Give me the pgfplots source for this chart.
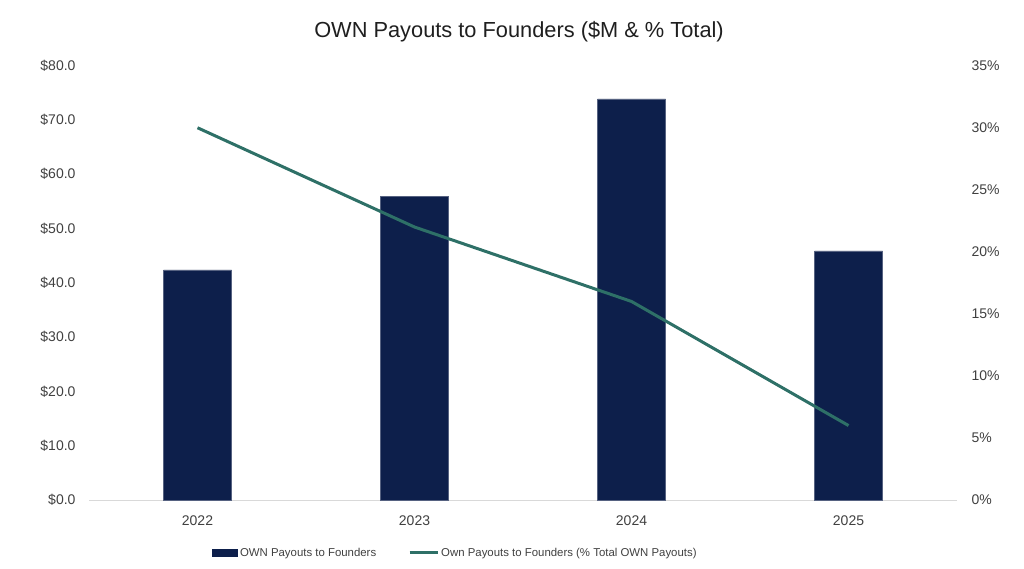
\documentclass[border=0pt]{standalone}
\usepackage{pgfplots}
\pgfplotsset{compat=1.18}
\usepackage{fontspec}
\setmainfont{Liberation Sans}
\definecolor{navy}{HTML}{0D1F4B}
\definecolor{tealline}{HTML}{2E7067}
\definecolor{txt}{HTML}{404040}
\definecolor{axisgray}{HTML}{D9D9D9}
\begin{document}
\begin{tikzpicture}[x=1pt,y=1pt]
\path[use as bounding box] (0,0) rectangle (1024,568);
\node[font=\fontsize{21.8}{25}\selectfont, text=black!88] at (519,536) {OWN Payouts to Founders (\$M \& \% Total)};
\begin{axis}[
  at={(89pt,68pt)}, anchor=south west, scale only axis,
  width=868pt, height=434.3pt,
  xmin=-0.5, xmax=3.5, ymin=0, ymax=80,
  xtick={0,1,2,3}, xticklabels={2022,2023,2024,2025},
  ytick={0,10,...,80},
  axis x line*=bottom, axis y line*=left,
  x axis line style={draw=axisgray, line width=1pt, -},
  y axis line style={draw=none},
  major tick length=0pt,
  tick label style={font=\fontsize{14}{16}\selectfont, text=txt},
  /pgf/number format/assume math mode=true,
  yticklabel={\$\pgfmathprintnumber[fixed,fixed zerofill,precision=1]{\tick}},
  yticklabel style={xshift=-10pt},
  xticklabel style={yshift=-12pt},
  clip=false,
]
\addplot[ybar, bar width=68pt, fill=navy, draw=navy!70!white, line width=0.3pt, bar shift=0pt] coordinates {(0,42.4) (1,55.9) (2,73.9) (3,45.9)};
\end{axis}
\begin{axis}[
  at={(89pt,68pt)}, anchor=south west, scale only axis,
  width=868pt, height=434.3pt,
  xmin=-0.5, xmax=3.5, ymin=0, ymax=35,
  ytick={0,5,...,35},
  axis y line*=right, axis x line=none,
  y axis line style={draw=none},
  major tick length=0pt,
  tick label style={font=\fontsize{14}{16}\selectfont, text=txt},
  /pgf/number format/assume math mode=true,
  yticklabel={\pgfmathprintnumber{\tick}\%},
  yticklabel style={anchor=west, xshift=11pt},
  legend columns=2,
  legend style={draw=none, fill=none, at={(0.422,-0.122)}, anchor=center,
    font=\fontsize{11.4}{14}\selectfont, text=txt,
    /tikz/every even column/.append style={column sep=30pt}},
  clip=false,
]
\addlegendimage{area legend, fill=navy, draw=none, legend image code/.code={\fill[navy] (0pt,-4pt) rectangle (26pt,4pt);}}
\addlegendentry{OWN Payouts to Founders}
\addplot[tealline, line width=3pt, legend image code/.code={\draw[tealline, line width=3pt] (0pt,0pt) -- (28pt,0pt);}] coordinates {(0,30) (1,22) (2,16) (3,6)};
\addlegendentry{Own Payouts to Founders (\% Total OWN Payouts)}
\end{axis}
\end{tikzpicture}
\end{document}
